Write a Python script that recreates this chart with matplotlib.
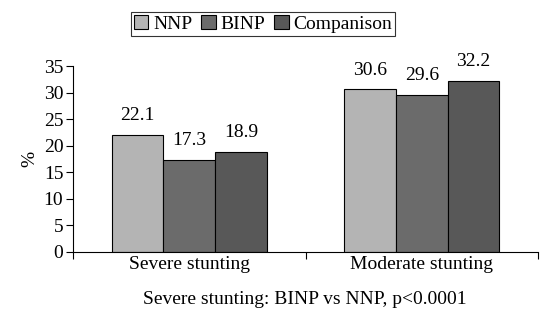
import numpy as np
import matplotlib.pyplot as plt

categories = ["Severe stunting", "Moderate stunting"]
series = ["NNP", "BINP", "Companison"]
nnp = [22.1, 30.6]
binp = [17.3, 29.6]
comp = [18.9, 32.2]
colors = ["#b4b4b4", "#6b6b6b", "#585858"]

plt.rcParams['font.family'] = ['Liberation Serif', 'DejaVu Serif']
plt.rcParams['font.size'] = 14

fig = plt.figure(figsize=(5.46, 3.13), dpi=100)
ax = fig.add_axes([73 / 546, 1 - 252 / 313, 465 / 546, 186 / 313])

x = np.arange(len(categories))
w = 0.222
for i, (name, vals) in enumerate(zip(series, [nnp, binp, comp])):
    pos = x + (i - 1) * w
    bars = ax.bar(pos, vals, w, color=colors[i], edgecolor="black", linewidth=0.8, label=name)
    for b, v in zip(bars, vals):
        ax.text(b.get_x() + b.get_width() / 2, v + 2.0, f"{v:.1f}", ha="center", va="bottom")

ax.set_xlim(-0.5, 1.5)
ax.set_ylim(0, 35)
ax.set_yticks(range(0, 36, 5))
ax.set_xticks([-0.5, 0.5, 1.5], minor=False)
ax.set_xticklabels([])
ax.set_xticks(x, minor=True)
ax.set_xticklabels(categories, minor=True)
ax.tick_params(axis="x", which="minor", length=0, pad=3)
ax.tick_params(axis="x", which="major", length=5, direction="out")
ax.tick_params(axis="y", length=5, direction="out", pad=2)
ax.spines["top"].set_visible(False)
ax.spines["right"].set_visible(False)
ax.set_ylabel("%", labelpad=4)

leg = ax.legend(loc="center", bbox_to_anchor=(263 / 546, 1 - 24 / 313), bbox_transform=fig.transFigure,
                ncol=3, frameon=True, fancybox=False, edgecolor="black", handlelength=0.75, handleheight=0.75,
                handletextpad=0.25, columnspacing=0.45, borderpad=0.15)
leg.get_frame().set_linewidth(0.8)

fig.text(305 / 546, 1 - 300 / 313, "Severe stunting: BINP vs NNP, p<0.0001", ha="center", va="center")

fig.savefig("out.png", dpi=100)
